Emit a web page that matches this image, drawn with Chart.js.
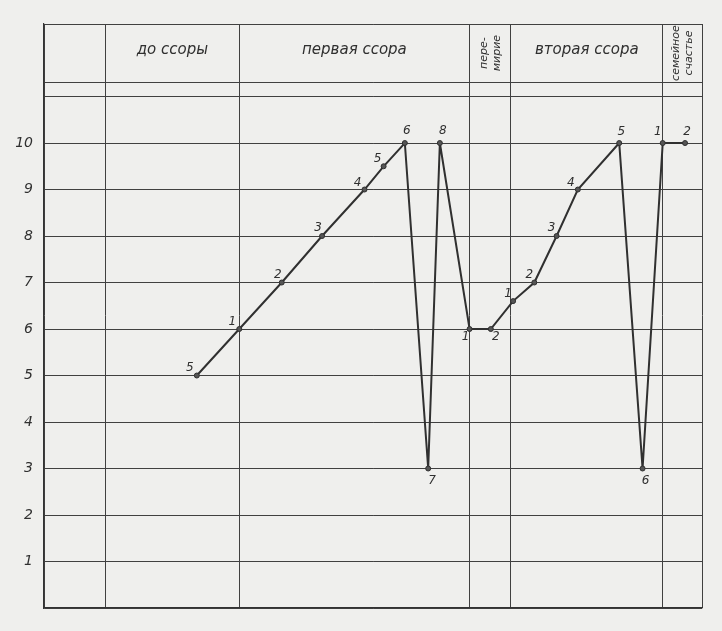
<!DOCTYPE html>
<html>
<head>
<meta charset="utf-8">
<script src="https://cdn.jsdelivr.net/npm/chart.js@4.4.1/dist/chart.umd.min.js"></script>
<style>
  html, body { margin: 0; padding: 0; background: #efefed; }
  #wrap { width: 722px; height: 631px; }
</style>
</head>
<body>
<div id="wrap"><canvas id="moodChart" width="722" height="631"></canvas></div>
<script>
// time axis in rough "days"
const periodBounds = [0, 2.9, 9.2, 20.05, 22.0, 29.15, 31];
const periodNames = ['', 'до ссоры', 'первая ссора', ['пере-', 'мирие'], 'вторая ссора', ['семейное', 'счастье']];

const dayValues = [7.2, 9.2, 11.2, 13.1, 15.1, 16.0, 17.0, 18.1, 18.65, 20.05, 21.05, 22.1, 23.1, 24.15, 25.15, 27.1, 28.2, 29.15, 30.2];
const moodValues = [5, 6, 7, 8, 9, 9.5, 10, 3, 10, 6, 6, 6.6, 7, 8, 9, 10, 3, 10, 10];
const pointNames = ['5', '1', '2', '3', '4', '5', '6', '7', '8', '1', '2', '1', '2', '3', '4', '5', '6', '1', '2'];

const moodTicks = [0, 1, 2, 3, 4, 5, 6, 7, 8, 9, 10, 11, 11.31, 12.56];

const ink = '#303030';
const handFont = '"DejaVu Sans", sans-serif';

// where the little number sits relative to its dot
const labelOffsets = [
  [-7, -8], [-7, -7], [-4, -8], [-4, -8], [-7, -7], [-6, -7], [2, -12], [4, 12], [3, -12],
  [-4, 8], [5, 8], [-5, -7], [-5, -8], [-5, -8], [-7, -7], [2, -11], [3, 12], [-5, -11], [2, -11]
];

const paper = {
  id: 'paper',
  beforeDraw(chart) {
    const c = chart.ctx;
    c.save();
    c.fillStyle = '#efefed';
    c.fillRect(0, 0, chart.width, chart.height);
    c.restore();
  }
};

const headerAndNumbers = {
  id: 'headerAndNumbers',
  afterDraw(chart) {
    const c = chart.ctx;
    const xs = chart.scales.x, ys = chart.scales.y;
    c.save();
    c.fillStyle = ink;
    c.textAlign = 'center';
    c.textBaseline = 'middle';

    const yTop = ys.getPixelForValue(12.56);
    const yBot = ys.getPixelForValue(11.31);
    const yMid = (yTop + yBot) / 2;
    for (let i = 0; i < periodNames.length; i++) {
      const name = periodNames[i];
      if (!name) continue;
      const x0 = xs.getPixelForValue(periodBounds[i]);
      const x1 = xs.getPixelForValue(periodBounds[i + 1]);
      const xm = (x0 + x1) / 2;
      if (Array.isArray(name)) {
        c.font = 'italic 11px ' + handFont;
        c.save();
        c.translate(xm, yMid);
        c.rotate(-Math.PI / 2);
        c.fillText(name[0], 0, -6.5);
        c.fillText(name[1], 0, 6.5);
        c.restore();
      } else {
        c.font = 'italic 15px ' + handFont;
        c.fillText(name, xm, yMid - 3);
      }
    }

    c.font = 'italic 12px ' + handFont;
    const pts = chart.getDatasetMeta(0).data;
    pts.forEach((p, i) => {
      const off = labelOffsets[i];
      c.fillText(pointNames[i], p.x + off[0], p.y + off[1]);
    });
    c.restore();
  }
};

new Chart(document.getElementById('moodChart'), {
  type: 'line',
  data: {
    datasets: [{
      data: dayValues.map((d, i) => ({ x: d, y: moodValues[i] })),
      borderColor: ink,
      borderWidth: 2,
      pointRadius: 2.5,
      pointBackgroundColor: '#555',
      pointBorderColor: ink,
      pointBorderWidth: 1,
      tension: 0
    }]
  },
  options: {
    responsive: false,
    animation: false,
    layout: { padding: { top: 24, bottom: 23, left: 0, right: 20 } },
    plugins: { legend: { display: false }, tooltip: { enabled: false } },
    scales: {
      x: {
        type: 'linear',
        min: 0,
        max: 31,
        afterBuildTicks: (s) => { s.ticks = periodBounds.map(v => ({ value: v })); },
        afterFit: (s) => { s.height = 0; },
        ticks: { display: false },
        grid: { color: '#404040', lineWidth: 1, drawTicks: false },
        border: { display: true, color: '#333', width: 1.2 }
      },
      y: {
        type: 'linear',
        min: 0,
        max: 12.56,
        afterBuildTicks: (s) => { s.ticks = moodTicks.map(v => ({ value: v })); },
        afterFit: (s) => { s.width = 44; },
        ticks: {
          padding: 11,
          color: ink,
          font: { family: handFont, size: 14, style: 'italic' },
          callback: (v) => (Number.isInteger(v) && v >= 1 && v <= 10) ? String(v) : ''
        },
        grid: { color: '#404040', lineWidth: 1, drawTicks: false },
        border: { display: true, color: '#333', width: 1.2 }
      }
    }
  },
  plugins: [paper, headerAndNumbers]
});
</script>
</body>
</html>
